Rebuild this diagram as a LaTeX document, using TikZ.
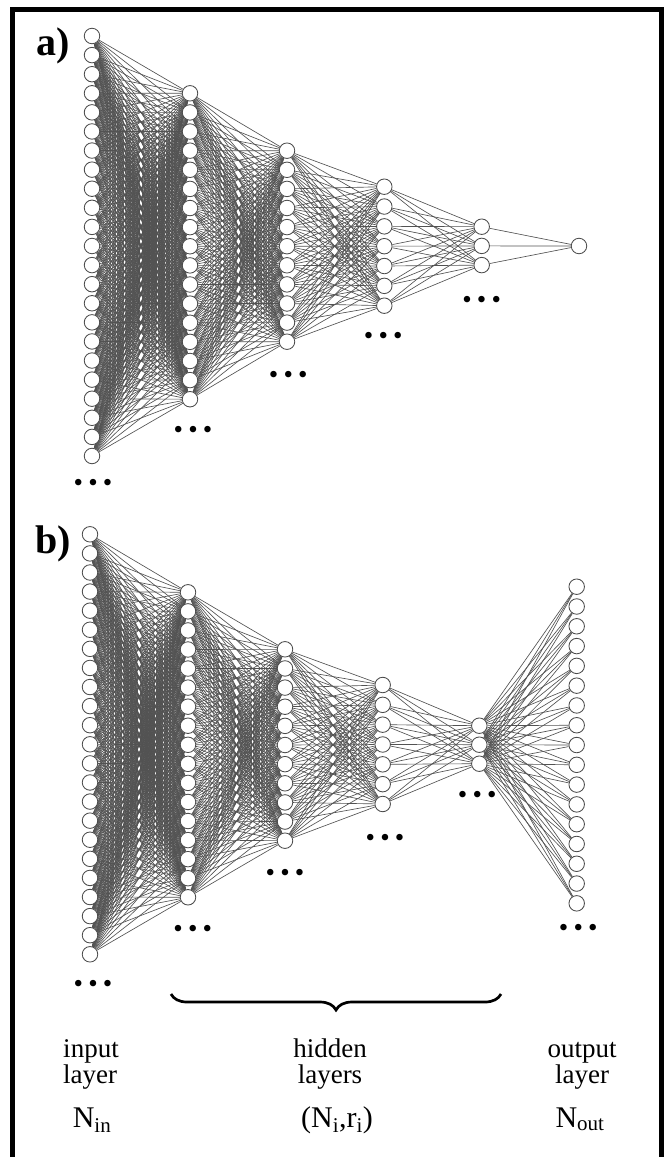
\documentclass[tikz,border=0pt]{standalone}
\usepackage{fontspec}
\setmainfont{Liberation Serif}
\usetikzlibrary{decorations.pathreplacing}
\pgfdeclarelayer{background}
\pgfsetlayers{background,main}
\definecolor{edgegray}{RGB}{82,82,82}
\definecolor{ringgray}{RGB}{75,75,75}
\newcommand\mklayer[5]{% prefix, x, n, top y, spacing
  \foreach \k in {1,...,#3}{\node[neuron] (#1-\k) at (#2,{#4+(\k-1)*#5}) {};}}
\newcommand\joinlayers[4]{% prefix A, nA, prefix B, nB
  \begin{pgfonlayer}{background}
  \foreach \i in {1,...,#2}{\foreach \j in {1,...,#4}{\draw[edge] (#1-\i) -- (#3-\j);}}
  \end{pgfonlayer}}
\newcommand\threedots{•\hspace{5.2pt}•\hspace{5.2pt}•}
\begin{document}
\begin{tikzpicture}[x=1pt,y=-1pt,
  neuron/.style={circle,draw=ringgray,fill=white,line width=0.85pt,minimum size=15.5pt,inner sep=0pt},
  edge/.style={draw=edgegray,line width=0.65pt},
  dotsrow/.style={inner sep=0pt,font=\fontsize{27}{27}\selectfont},
  panel/.style={font=\fontsize{40}{40}\selectfont\bfseries,inner sep=0pt},
  word/.style={font=\fontsize{27}{27}\selectfont,inner sep=0pt,anchor=base},
  sym/.style={font=\fontsize{30}{30}\selectfont,inner sep=0pt,anchor=base},
  frame/.style={line width=5pt,draw=black}]
\useasboundingbox (0,0) rectangle (667,1157);
\draw[frame] (12.5,1165) -- (12.5,9) -- (661.5,9) -- (661.5,1165);

% ---------- panel a ----------
\node[panel] (la) at (53,46) {a)};
\mklayer{aA}{92}{23}{36}{19.09}
\mklayer{aB}{190}{17}{93.3}{19.12}
\mklayer{aC}{287}{11}{150.7}{19.1}
\mklayer{aD}{384.3}{7}{186.7}{19.83}
\mklayer{aE}{481.7}{3}{226.7}{19.2}
\mklayer{aF}{579}{1}{246}{19}
\joinlayers{aA}{23}{aB}{17}
\joinlayers{aB}{17}{aC}{11}
\joinlayers{aC}{11}{aD}{7}
\joinlayers{aD}{7}{aE}{3}
\joinlayers{aE}{3}{aF}{1}
\node[dotsrow] (adA) at (93,485.7) {\threedots};
\node[dotsrow] (adB) at (193,432.3) {\threedots};
\node[dotsrow] (adC) at (288.3,377.7) {\threedots};
\node[dotsrow] (adD) at (383.3,338.3) {\threedots};
\node[dotsrow] (adE) at (481.7,302.3) {\threedots};

% ---------- panel b ----------
\node[panel] (lb) at (53,544) {b)};
\mklayer{bA}{90}{23}{534.3}{19.09}
\mklayer{bB}{188}{17}{592.3}{19.06}
\mklayer{bC}{285}{11}{649.3}{19.14}
\mklayer{bD}{382.7}{7}{685}{19.83}
\mklayer{bE}{479.3}{3}{725.7}{19.0}
\mklayer{bF}{576.7}{17}{586.7}{19.79}
\joinlayers{bA}{23}{bB}{17}
\joinlayers{bB}{17}{bC}{11}
\joinlayers{bC}{11}{bD}{7}
\joinlayers{bD}{7}{bE}{3}
\joinlayers{bE}{3}{bF}{17}
\node[dotsrow] (bdA) at (93,986.7) {\threedots};
\node[dotsrow] (bdB) at (192.8,931) {\threedots};
\node[dotsrow] (bdC) at (285,875.7) {\threedots};
\node[dotsrow] (bdD) at (385,840) {\threedots};
\node[dotsrow] (bdE) at (477.3,797.3) {\threedots};
\node[dotsrow] (bdF) at (578.3,930.7) {\threedots};

% ---------- brace and labels ----------
\coordinate (brL) at (171,994);
\coordinate (brR) at (501,994);
\draw[decorate,decoration={brace,amplitude=16pt,mirror},line width=2.7pt] (brL) -- (brR);

\node[word] (in1) at (91,1057) {input};
\node[word] (in2) at (90,1083) {layer};
\node[sym] (in3) at (92,1127) {N\textsubscript{in}};
\node[word] (hd1) at (330,1057) {hidden};
\node[word] (hd2) at (330,1083) {layers};
\node[sym] (hd3) at (337,1127) {(N\textsubscript{i},r\textsubscript{i})};
\node[word] (ou1) at (582,1057) {output};
\node[word] (ou2) at (582,1083) {layer};
\node[sym] (ou3) at (580,1127) {N\textsubscript{out}};
\end{tikzpicture}
\end{document}
